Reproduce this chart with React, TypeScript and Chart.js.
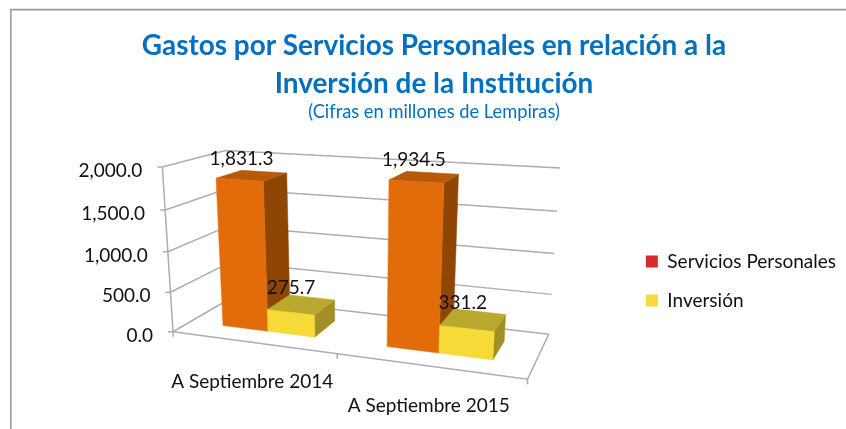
import React, { useEffect, useRef } from "react";
import { Chart, registerables } from "chart.js";

Chart.register(...registerables);

// ---- data ----
const categories = ["A Septiembre 2014", "A Septiembre 2015"];
const serviciosPersonales = [1831.3, 1934.5];
const inversion = [275.7, 331.2];
const titleLines = ["Gastos por Servicios Personales en relación a la", "Inversión de la Institución"];
const subtitleText = "(Cifras en millones de Lempiras)";

// ---- styles ----
const FONT = "Lato, Carlito, 'Open Sans', sans-serif";
const BLUE = "#0070C0";
const GRID = "#adadad";
const TEXT = "#111111";
const FACES = [
  { front: "#E36C0A", top: "#B65A0A", side: "#8F4604" },
  { front: "#F6DA37", top: "#BBA82E", side: "#A09026" },
];
const DEPTH_FRONT = 0.28;
const DEPTH_BACK = 0.71;

// Camera: calibration of the 3D box. [U along categories, V along values, W depth, screen x, screen y]
const CALIBRATION: number[][] = [
  [0, 0, 0, 172, 332],
  [0, 1, 0, 162, 168],
  [0, 0, 1, 234, 297],
  [0, 1, 1, 223, 151],
  [1, 0, 1, 550, 334],
  [1, 1, 1, 559, 168],
  [1, 0, 0, 526, 380],
  [0.5, 0, 0, 335, 355],
  [0.106, 0.9155, 0.28, 218, 178],
  [0.25, 0.9155, 0.28, 265, 180],
  [0.106, 0, 0.28, 223, 325],
  [0.25, 0, 0.28, 268, 331],
  [0.394, 0, 0.28, 315, 337],
  [0.606, 0.967, 0.28, 390, 181],
  [0.75, 0.967, 0.28, 445, 182],
  [0.606, 0, 0.28, 388, 346],
  [0.75, 0, 0.28, 439, 352],
  [0.894, 0, 0.28, 494, 359],
  [0.25, 0.9155, 0.71, 286, 173],
  [0.394, 0.138, 0.71, 333, 301],
  [0.894, 0.1656, 0.71, 505, 316],
];

function solveCamera(points: number[][]): number[] {
  const n = 11;
  const A: number[][] = Array.from({ length: n }, () => new Array(n + 1).fill(0));
  const add = (row: number[], rhs: number) => {
    for (let i = 0; i < n; i++) {
      for (let j = 0; j < n; j++) A[i][j] += row[i] * row[j];
      A[i][n] += row[i] * rhs;
    }
  };
  for (const [u, v, w, x, y] of points) {
    add([1, u, v, w, 0, 0, 0, 0, -x * u, -x * v, -x * w], x);
    add([0, 0, 0, 0, 1, u, v, w, -y * u, -y * v, -y * w], y);
  }
  for (let i = 0; i < n; i++) A[i][i] += 1e-9;
  for (let c = 0; c < n; c++) {
    let best = c;
    for (let r = c + 1; r < n; r++) if (Math.abs(A[r][c]) > Math.abs(A[best][c])) best = r;
    [A[c], A[best]] = [A[best], A[c]];
    for (let r = 0; r < n; r++) {
      if (r === c) continue;
      const f = A[r][c] / A[c][c];
      for (let k = c; k <= n; k++) A[r][k] -= f * A[c][k];
    }
  }
  return A.map((row, i) => row[n] / row[i]);
}

const CAM = solveCamera(CALIBRATION);
function project(u: number, v: number, w: number): [number, number] {
  const d = 1 + CAM[8] * u + CAM[9] * v + CAM[10] * w;
  return [
    (CAM[0] + CAM[1] * u + CAM[2] * v + CAM[3] * w) / d,
    (CAM[4] + CAM[5] * u + CAM[6] * v + CAM[7] * w) / d,
  ];
}

function poly(ctx: CanvasRenderingContext2D, pts: [number, number][], fill: string) {
  ctx.beginPath();
  pts.forEach((p, i) => (i ? ctx.lineTo(p[0], p[1]) : ctx.moveTo(p[0], p[1])));
  ctx.closePath();
  ctx.fillStyle = fill;
  ctx.strokeStyle = fill;
  ctx.lineWidth = 0.5;
  ctx.fill();
  ctx.stroke();
}

function line(ctx: CanvasRenderingContext2D, pts: [number, number][]) {
  ctx.beginPath();
  pts.forEach((p, i) => (i ? ctx.lineTo(p[0], p[1]) : ctx.moveTo(p[0], p[1])));
  ctx.stroke();
}

const fmt = (n: number) =>
  n.toLocaleString("en-US", { minimumFractionDigits: 1, maximumFractionDigits: 1 });

const scene3D = {
  id: "scene3D",
  beforeDraw(chart: any) {
    const ctx: CanvasRenderingContext2D = chart.ctx;
    ctx.save();
    ctx.strokeStyle = "#9c9c9c";
    ctx.lineWidth = 1.6;
    ctx.beginPath();
    ctx.moveTo(10.8, chart.height);
    ctx.lineTo(10.8, 9.6);
    ctx.lineTo(chart.width, 9.6);
    ctx.stroke();
    ctx.restore();
  },
  beforeDatasetsDraw(chart: any) {
    const ctx: CanvasRenderingContext2D = chart.ctx;
    const { x: xs, y: ys } = chart.scales;
    const area = chart.chartArea;
    const U = (px: number) => (px - area.left) / area.width;
    const V = (val: number) => (area.bottom - ys.getPixelForValue(val)) / area.height;

    ctx.save();
    // walls
    ctx.strokeStyle = GRID;
    ctx.lineWidth = 1.5;
    ys.ticks.forEach((t: any) => {
      const v = V(t.value);
      line(ctx, [project(0, v, 0), project(0, v, 1), project(1, v, 1)]);
      const p = project(0, v, 0);
      line(ctx, [[p[0] - 5, p[1]], p]);
    });
    line(ctx, [project(0, 0, 0), project(0, 1, 0)]);
    // floor
    line(ctx, [project(0, 0, 0), project(1, 0, 0), project(1, 0, 1)]);
    for (let i = 0; i <= categories.length; i++) {
      const p = project(i / categories.length, 0, 0);
      line(ctx, [p, [p[0], p[1] + 5]]);
    }

    // bars, read from the library's own elements
    const labels: { text: string; x: number; y: number }[] = [];
    categories.forEach((_, i) => {
      chart.data.datasets.forEach((ds: any, di: number) => {
        const el = chart.getDatasetMeta(di).data[i];
        const u0 = U(el.x - el.width / 2);
        const u1 = U(el.x + el.width / 2);
        const v = V(ds.data[i]);
        const c = FACES[di];
        const w0 = DEPTH_FRONT;
        const w1 = DEPTH_BACK;
        poly(ctx, [project(u1, 0, w0), project(u1, v, w0), project(u1, v, w1), project(u1, 0, w1)], c.side);
        poly(ctx, [project(u0, v, w0), project(u1, v, w0), project(u1, v, w1), project(u0, v, w1)], c.top);
        poly(ctx, [project(u0, 0, w0), project(u0, v, w0), project(u1, v, w0), project(u1, 0, w0)], c.front);
        const m = project((u0 + u1) / 2, v, (w0 + w1) / 2);
        labels.push({ text: fmt(ds.data[i]), x: m[0] - 10.5, y: m[1] - 17 });
      });
    });

    // text
    ctx.fillStyle = TEXT;
    ctx.font = `19px ${FONT}`;
    ctx.textBaseline = "middle";
    ctx.textAlign = "center";
    labels.forEach((l) => ctx.fillText(l.text, l.x, l.y));
    ctx.textAlign = "right";
    ys.ticks.forEach((t: any) => {
      const p = project(0, V(t.value), 0);
      ctx.fillText(t.label, p[0] - 20, p[1] + 4);
    });
    ctx.textAlign = "center";
    xs.getLabels().forEach((lab: string, i: number) => {
      const p = project((i + 0.5) / categories.length, 0, 0);
      ctx.fillText(lab, p[0], p[1] + 40);
    });
    ctx.restore();
    return false;
  },
};

export default function App() {
  const ref = useRef<HTMLCanvasElement>(null);
  useEffect(() => {
    document.body.style.margin = "0";
    const chart = new Chart(ref.current!, {
      type: "bar",
      data: {
        labels: categories,
        datasets: [
          { label: "Servicios Personales", data: serviciosPersonales, backgroundColor: "#D92B2B", categoryPercentage: 0.576, barPercentage: 1 },
          { label: "Inversión", data: inversion, backgroundColor: "#F6DA37", categoryPercentage: 0.576, barPercentage: 1 },
        ],
      },
      plugins: [scene3D],
      options: {
        responsive: false,
        animation: false,
        layout: { padding: { left: 22, right: 0, top: 0, bottom: 99 } },
        scales: {
          x: { display: false },
          y: {
            display: false,
            min: 0,
            max: 2000,
            ticks: { stepSize: 500, callback: (v: any) => fmt(Number(v)) },
          },
        },
        plugins: {
          title: {
            display: true,
            text: titleLines,
            color: BLUE,
            font: { family: FONT, size: 27.9, weight: "bold", lineHeight: 1.36 },
            padding: { top: 27, bottom: 0 },
          },
          subtitle: {
            display: true,
            text: subtitleText,
            color: BLUE,
            font: { family: FONT, size: 18.3, lineHeight: 1.05 },
            padding: { top: 0, bottom: 10 },
          },
          legend: {
            display: true,
            position: "right",
            align: "end",
            labels: {
              boxWidth: 12,
              boxHeight: 12,
              padding: 20,
              color: TEXT,
              font: { family: FONT, size: 19 },
            },
          },
          tooltip: { enabled: false },
        },
      },
    } as any);
    return () => chart.destroy();
  }, []);
  return <canvas ref={ref} width={846} height={429} style={{ display: "block" }} />;
}
